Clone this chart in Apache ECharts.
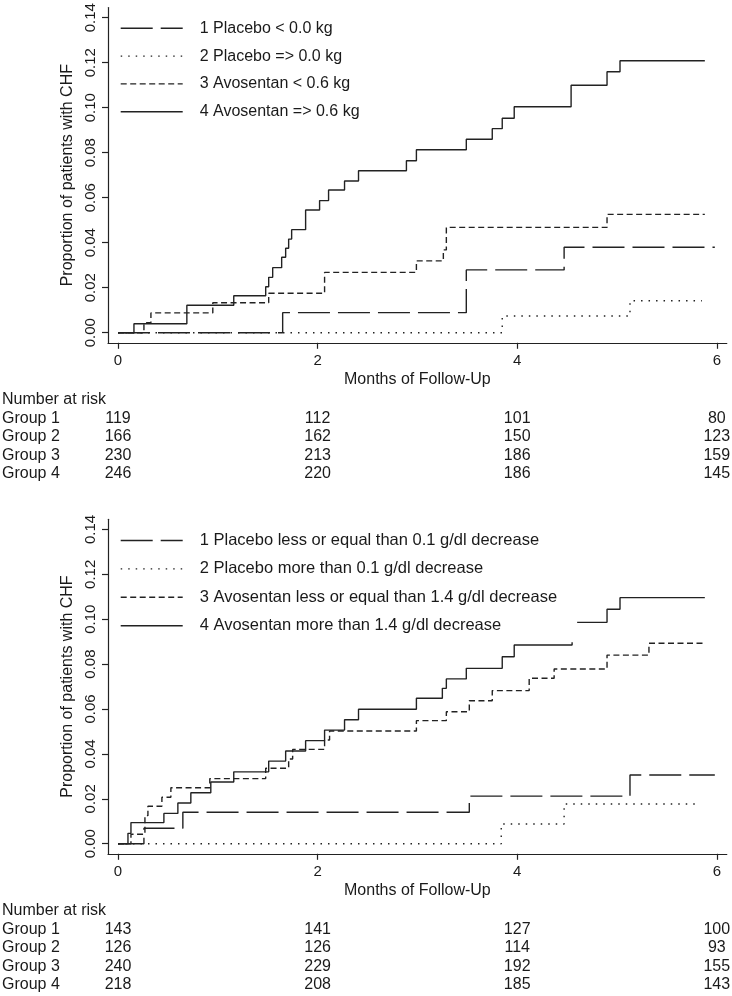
<!DOCTYPE html>
<html>
<head>
<meta charset="utf-8">
<script src="https://cdn.jsdelivr.net/npm/echarts@6/dist/echarts.min.js"></script>
<style>
html,body{margin:0;padding:0;background:#fff;}
#c{width:732px;height:996px;}
</style>
</head>
<body>
<div id="c"></div>
<script>
// ---- tick values ----
const monthTicks = [0, 2, 4, 6];
const propTicks = [0, 0.02, 0.04, 0.06, 0.08, 0.10, 0.12, 0.14];

// ---- top panel: weight change ----
const topNames = ['1 Placebo < 0.0 kg', '2 Placebo => 0.0 kg', '3 Avosentan < 0.6 kg', '4 Avosentan => 0.6 kg'];
const topG1Time = [0, 1.65, 3.49, 4.47, 5.98];
const topG1Prop = [0, 0.0089, 0.0279, 0.038, 0.038];
const topG2Time = [0, 3.85, 5.13, 5.85];
const topG2Prop = [0, 0.0074, 0.0142, 0.0142];
const topG3Time = [0, 0.26, 0.33, 0.95, 1.51, 2.07, 2.99, 3.26, 3.29, 4.90, 5.88];
const topG3Prop = [0, 0.0044, 0.0088, 0.0133, 0.0175, 0.0268, 0.0319, 0.0368, 0.0468, 0.0526, 0.0526];
const topG4Time = [0, 0.16, 0.69, 1.16, 1.48, 1.51, 1.55, 1.64, 1.68, 1.71, 1.74, 1.88, 2.02, 2.11, 2.27, 2.41, 2.89, 2.99, 3.49, 3.75, 3.85, 3.97, 4.54, 4.90, 5.03, 5.88];
const topG4Prop = [0, 0.004, 0.0122, 0.0164, 0.0204, 0.0246, 0.0289, 0.0335, 0.0375, 0.0416, 0.0458, 0.0545, 0.0587, 0.0634, 0.0674, 0.072, 0.0764, 0.0813, 0.086, 0.0907, 0.0953, 0.1004, 0.11, 0.116, 0.1209, 0.1209];
const topRisk1 = [119, 112, 101, 80];
const topRisk2 = [166, 162, 150, 123];
const topRisk3 = [230, 213, 186, 159];
const topRisk4 = [246, 220, 186, 145];

// ---- bottom panel: haemoglobin decrease ----
const botNames = ['1 Placebo less or equal than 0.1 g/dl decrease', '2 Placebo more than 0.1 g/dl decrease', '3 Avosentan less or equal than 1.4 g/dl decrease', '4 Avosentan more than 1.4 g/dl decrease'];
const botG1Time = [0, 0.26, 0.65, 3.52, 5.13, 5.98];
const botG1Prop = [0, 0.0069, 0.014, 0.0212, 0.0306, 0.0306];
const botG2Time = [0, 3.84, 4.47, 5.83];
const botG2Prop = [0, 0.0088, 0.0177, 0.0177];
const botG3Time = [0, 0.13, 0.27, 0.30, 0.44, 0.53, 0.92, 1.48, 1.71, 1.75, 2.07, 2.12, 2.99, 3.29, 3.52, 3.75, 4.12, 4.37, 4.90, 5.32, 5.88];
const botG3Prop = [0, 0.0042, 0.0125, 0.0167, 0.0207, 0.0249, 0.029, 0.0336, 0.0377, 0.042, 0.0462, 0.0502, 0.0548, 0.0588, 0.0637, 0.0682, 0.0737, 0.0778, 0.084, 0.0893, 0.0893];
const botG4Time = [0, 0.10, 0.13, 0.46, 0.60, 0.73, 0.93, 1.16, 1.51, 1.68, 1.88, 2.07, 2.27, 2.41, 2.99, 3.25, 3.29, 3.49, 3.85, 3.97, 4.55, 4.90, 5.03, 5.88];
const botG4Prop = [0, 0.0046, 0.0094, 0.0135, 0.0181, 0.0227, 0.0275, 0.032, 0.0368, 0.0413, 0.0459, 0.0506, 0.0552, 0.0599, 0.0648, 0.0692, 0.0734, 0.0781, 0.0833, 0.0885, 0.0986, 0.1044, 0.1096, 0.1096];
const botRisk1 = [143, 141, 127, 100];
const botRisk2 = [126, 126, 114, 93];
const botRisk3 = [240, 229, 192, 155];
const botRisk4 = [218, 208, 185, 143];

const groupLabels = ['Group 1', 'Group 2', 'Group 3', 'Group 4'];

const FONT = '"Liberation Sans", Arial, sans-serif';
const INK = '#1a1a1a';
const LINE = '#222';
const dashTypes = [[32, 8], [1.5, 6], [6, 3.5], 'solid'];

function zip(t, p) { return t.map((x, i) => [x, p[i]]); }

function makeSeries(names, times, props, gi) {
  return names.map((n, i) => ({
    name: n, type: 'line', step: 'end', xAxisIndex: gi, yAxisIndex: gi,
    data: zip(times[i], props[i]), symbol: 'none', showSymbol: false,
    lineStyle: { color: LINE, width: 1.4, type: dashTypes[i] },
    itemStyle: { color: LINE }, silent: true, z: 2
  }));
}

const grids = [
  { left: 108, right: 5.2, top: 7.6, height: 335.2 },
  { left: 108, right: 5.2, top: 519.3, height: 334.5 }
];

function xAxisDef(gi) {
  return {
    type: 'value', gridIndex: gi, min: -0.1, max: 6.1,
    name: 'Months of Follow-Up', nameLocation: 'middle', nameGap: 29,
    nameTextStyle: { fontSize: 16, fontFamily: FONT, color: INK },
    axisLine: { show: true, onZero: false, lineStyle: { color: LINE, width: 1.2 } },
    axisTick: { show: true, customValues: monthTicks, length: 6, lineStyle: { color: LINE, width: 1.2 } },
    axisLabel: { customValues: monthTicks, fontSize: 15, fontFamily: FONT, color: INK, margin: 11 },
    splitLine: { show: false }
  };
}
function yAxisDef(gi) {
  return {
    type: 'value', gridIndex: gi, min: -0.0045, max: 0.1445,
    name: 'Proportion of patients with CHF', nameLocation: 'middle', nameGap: 27,
    nameTextStyle: { fontSize: 16, fontFamily: FONT, color: INK },
    axisLine: { show: true, onZero: false, lineStyle: { color: LINE, width: 1.2 } },
    axisTick: { show: true, customValues: propTicks, length: 6, lineStyle: { color: LINE, width: 1.2 } },
    axisLabel: { customValues: propTicks, rotate: 90, fontSize: 15, fontFamily: FONT, color: INK, margin: 10,
      formatter: v => v.toFixed(2) },
    splitLine: { show: false }
  };
}
function legendDef(names, top, gap, fs) {
  return {
    data: names, orient: 'vertical', left: 112, top: top,
    itemWidth: 62, itemHeight: 16, itemGap: gap,
    padding: [8, 20, 8, 8], backgroundColor: '#fff',
    selectedMode: false,
    textStyle: { fontSize: fs, fontFamily: FONT, color: INK, lineHeight: 16, padding: [0, 0, 0, 12] },
    itemStyle: { opacity: 0, borderWidth: 0 },
    lineStyle: { width: 1.4 }
  };
}

const chart = echarts.init(document.getElementById('c'), null, { renderer: 'canvas' });
chart.setOption({
  animation: false,
  backgroundColor: '#fff',
  grid: grids,
  xAxis: [xAxisDef(0), xAxisDef(1)],
  yAxis: [yAxisDef(0), yAxisDef(1)],
  legend: [legendDef(topNames, 12.3, 11.8, 16), legendDef(botNames, 524, 11.4, 16.5)],
  series: [].concat(
    makeSeries(topNames, [topG1Time, topG2Time, topG3Time, topG4Time], [topG1Prop, topG2Prop, topG3Prop, topG4Prop], 0),
    makeSeries(botNames, [botG1Time, botG2Time, botG3Time, botG4Time], [botG1Prop, botG2Prop, botG3Prop, botG4Prop], 1)
  )
});

// ---- number-at-risk tables, positioned with the x axis scale ----
function riskTable(gi, risks) {
  const els = [];
  const axisY = chart.convertToPixel({ yAxisIndex: gi }, -0.0045);
  const txt = (s, x, y, align) => ({
    type: 'text', silent: true,
    style: { text: s, x: x, y: y, align: align, verticalAlign: 'middle',
      fontSize: 16, fontFamily: FONT, fill: INK }
  });
  els.push(txt('Number at risk', 2, axisY + 57.2, 'left'));
  risks.forEach((row, r) => {
    const y = axisY + 75.7 + 18.3 * r;
    els.push(txt(groupLabels[r], 2, y, 'left'));
    row.forEach((n, c) => {
      const x = chart.convertToPixel({ xAxisIndex: gi }, monthTicks[c]);
      els.push(txt(String(n), x, y, 'center'));
    });
  });
  return els;
}
chart.setOption({
  graphic: [].concat(
    riskTable(0, [topRisk1, topRisk2, topRisk3, topRisk4]),
    riskTable(1, [botRisk1, botRisk2, botRisk3, botRisk4])
  )
});
</script>
</body>
</html>
